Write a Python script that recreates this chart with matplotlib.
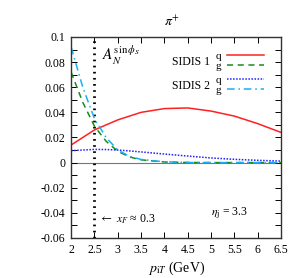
import matplotlib
matplotlib.use('Agg')
import matplotlib.pyplot as plt
import numpy as np

plt.rcParams['font.family'] = 'Liberation Serif'
plt.rcParams['mathtext.fontset'] = 'stix'

# p_iT grid (GeV)
pt = [2.0, 2.25, 2.5, 2.75, 3.0, 3.25, 3.5, 4.0, 4.5, 5.0, 5.5, 6.0, 6.5]

# SIDIS 1
q1 = [0.014, 0.020, 0.026, 0.030, 0.034, 0.037, 0.040, 0.043, 0.0435, 0.041, 0.037, 0.031, 0.024]
g1 = [0.072, 0.048, 0.029, 0.017, 0.009, 0.0045, 0.0022, 0.0005, 0.0001, 0.0, 0.0, 0.0, 0.0]
# SIDIS 2
q2 = [0.0095, 0.010, 0.0105, 0.0104, 0.010, 0.0093, 0.0085, 0.0068, 0.0052, 0.0037, 0.0026, 0.0018, 0.0012]
g2 = [0.092, 0.060, 0.035, 0.020, 0.010, 0.005, 0.0025, 0.0006, 0.0001, 0.0, 0.0, 0.0, 0.0]

fig = plt.figure(figsize=(3.0, 2.78), dpi=100)
ax = fig.add_axes([0.237, 0.144, 0.700, 0.723])

ax.axhline(0, color='#777777', lw=0.8, zorder=1)
ax.axvline(2.5, color='black', lw=2.0, ls=(0, (0.6, 1.6)), zorder=2)

l1, = ax.plot(pt, q1, color='#ff2020', lw=1.1)
l2, = ax.plot(pt, g1, color='#1a8c1a', lw=1.1, ls=(0, (4, 3)))
l3, = ax.plot(pt, q2, color='#2020ff', lw=1.1, ls=(0, (1, 1)))
l4, = ax.plot(pt, g2, color='#1ab0f0', lw=1.1, ls=(0, (5, 2.5, 1, 2.5)))

ax.set_xlim(2, 6.5)
ax.set_ylim(-0.06, 0.1)
ax.set_xticks(np.arange(2, 6.51, 0.5))
ax.set_xticklabels(['2', '2.5', '3', '3.5', '4', '4.5', '5', '5.5', '6', '6.5'])
ax.set_yticks(np.arange(-0.06, 0.101, 0.02))
ax.set_yticklabels(['-0.06', '-0.04', '-0.02', '0', '0.02', '0.04', '0.06', '0.08', '0.1'])
ax.set_yticks(np.arange(-0.05, 0.1, 0.02), minor=True)
ax.tick_params(which='both', direction='in', top=True, right=True,
               labelsize=8.5, width=0.7, pad=4)
ax.tick_params(which='major', length=4)
ax.tick_params(which='minor', length=4)
for s in ax.spines.values():
    s.set_linewidth(1.0)
    s.set_color('#333333')

ax.set_xlabel(r'$p_{\mathrm{i}T}$ (GeV)', fontsize=10, labelpad=3)
fig.text(0.575, 0.905, r'$\pi^{+}$', fontsize=10, ha='center')

ax.text(2.66, 0.081, r'$A_N^{\sin\phi_S}$', fontsize=11)
ax.text(2.6, -0.045, r'$\leftarrow$ $x_F$ ≈ 0.3', fontsize=8.5, va='center')
ax.text(5.0, -0.040, r'$\eta_{\mathrm{j}}$ = 3.3', fontsize=8.5, va='center')

leg_kw = dict(loc='upper right', frameon=False, markerfirst=False, labelspacing=0.0,
              handlelength=3.4, handletextpad=0.5, fontsize=8, borderpad=0.0,
              borderaxespad=0.0)
leg1 = ax.legend([l1, l2], ['q', 'g'], bbox_to_anchor=(0.92, 0.93), **leg_kw)
ax.add_artist(leg1)
ax.legend([l3, l4], ['q', 'g'], bbox_to_anchor=(0.92, 0.81), **leg_kw)
ax.text(0.662, 0.876, 'SIDIS 1', transform=ax.transAxes, fontsize=8.5, ha='right', va='center')
ax.text(0.662, 0.756, 'SIDIS 2', transform=ax.transAxes, fontsize=8.5, ha='right', va='center')

fig.savefig('out.png', dpi=100)
